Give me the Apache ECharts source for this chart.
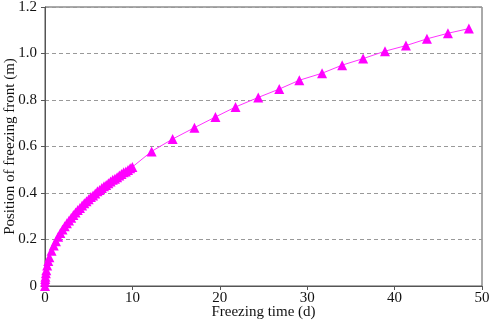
<!DOCTYPE html>
<html>
<head>
<meta charset="utf-8">
<script src="https://cdn.jsdelivr.net/npm/echarts@6/dist/echarts.min.js"></script>
<style>
  html, body { margin: 0; padding: 0; background: #fff; }
  #chart { width: 491px; height: 323px; }
</style>
</head>
<body>
<div id="chart"></div>
<script>
  // freezing time (d)
  const timeDays = [
    0, 0.01, 0.03, 0.05, 0.1, 0.15, 0.25, 0.37, 0.5, 0.75, 1.0, 1.25, 1.5, 1.75, 2.0,
    2.25, 2.5, 2.75, 3.0, 3.25, 3.5, 3.75, 4.0, 4.25, 4.5, 4.75, 5.0, 5.25, 5.5,
    5.75, 6.0, 6.25, 6.5, 6.75, 7.0, 7.25, 7.5, 7.75, 8.0, 8.25, 8.5, 8.75, 9.0,
    9.25, 9.5, 9.75, 10.0, 12.2, 14.6, 17.1, 19.5, 21.8, 24.4, 26.8, 29.1, 31.7,
    34.0, 36.4, 38.9, 41.3, 43.7, 46.1, 48.5,
  ];
  // position of freezing front (m)
  const frontPos = [
    0, 0.018, 0.030, 0.040, 0.055, 0.068, 0.088, 0.107, 0.124, 0.152, 0.174, 0.193,
    0.212, 0.228, 0.243, 0.257, 0.270, 0.282, 0.294, 0.305, 0.316, 0.327, 0.336,
    0.346, 0.356, 0.364, 0.373, 0.383, 0.389, 0.398, 0.407, 0.413, 0.421, 0.429,
    0.434, 0.442, 0.449, 0.457, 0.461, 0.468, 0.475, 0.482, 0.489, 0.493, 0.499,
    0.506, 0.512, 0.579, 0.632, 0.681, 0.727, 0.770, 0.811, 0.847, 0.885, 0.915,
    0.950, 0.978, 1.010, 1.034, 1.063, 1.087, 1.107,
  ];

  const font = '"Liberation Serif", "Times New Roman", serif';
  const axisColor = '#555';

  const myChart = echarts.init(document.getElementById('chart'));

  const option = {
    animation: false,
    grid: {
      left: 45,
      right: 9,
      top: 7,
      bottom: 37,
      outerBoundsMode: 'none',
      containLabel: false,
      show: true,
      borderColor: axisColor,
      borderWidth: 1,
    },
    xAxis: {
      type: 'value',
      min: 0,
      max: 50,
      interval: 10,
      name: 'Freezing time (d)',
      nameLocation: 'middle',
      nameGap: 19,
      nameMoveOverlap: false,
      nameTextStyle: { fontFamily: font, fontSize: 15, color: '#111' },
      axisLine: { show: true, lineStyle: { color: axisColor } },
      axisTick: { show: true, length: 4, lineStyle: { color: axisColor } },
      axisLabel: { fontFamily: font, fontSize: 15, color: '#111', margin: 5 },
      splitLine: { show: false },
    },
    yAxis: {
      type: 'value',
      min: 0,
      max: 1.2,
      interval: 0.2,
      name: 'Position of freezing front (m)',
      nameLocation: 'middle',
      nameGap: 27,
      nameMoveOverlap: false,
      nameTextStyle: { fontFamily: font, fontSize: 15, color: '#111' },
      axisLine: { show: true, lineStyle: { color: axisColor } },
      axisTick: { show: true, length: 4, lineStyle: { color: axisColor } },
      axisLabel: {
        fontFamily: font,
        fontSize: 15,
        color: '#111',
        margin: 8,
        formatter: (v) => (v === 0 ? '0' : v.toFixed(1)),
      },
      splitLine: {
        show: true,
        lineStyle: { color: '#999', type: [4, 3], width: 1 },
      },
    },
    series: [
      {
        type: 'line',
        data: timeDays.map((t, i) => [t, frontPos[i]]),
        symbol: 'triangle',
        symbolSize: 10,
        showAllSymbol: true,
        lineStyle: { color: '#ff33ff', width: 1 },
        itemStyle: { color: '#ff00ff' },
      },
    ],
  };

  myChart.setOption(option);
</script>
</body>
</html>
